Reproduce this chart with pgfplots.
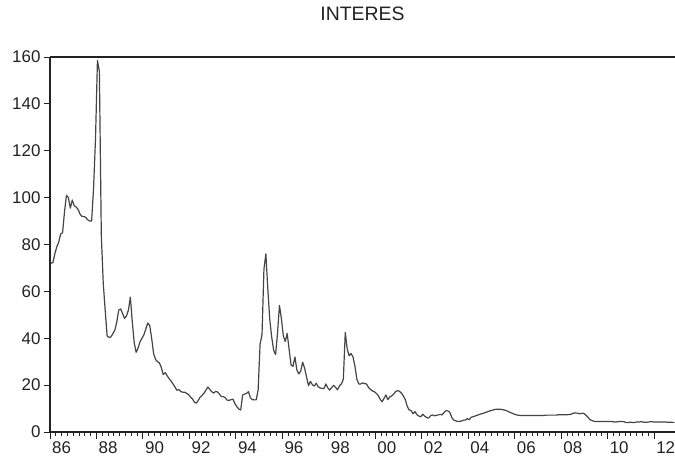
\documentclass[border=0pt]{standalone}
\usepackage{fontspec}
\setmainfont{Liberation Sans}
\usepackage{pgfplots}
\pgfplotsset{compat=1.18}
\definecolor{linegray}{HTML}{444444}
\definecolor{axisgray}{HTML}{222222}
\begin{document}
\begin{tikzpicture}
\path[use as bounding box] (0,0) rectangle (675bp,460bp);
\begin{axis}[
  at={(50bp,28bp)}, anchor=south west,
  scale only axis, width=625bp, height=375bp,
  xmin=1986, xmax=2012.9, ymin=0, ymax=160,
  axis x line*=bottom, axis y line*=left,
  axis line style={axisgray, line width=1.1bp},
  tick align=outside,
  xtick={1986,1988,...,2012},
  xticklabels={86,88,90,92,94,96,98,00,02,04,06,08,10,12},
  minor x tick num=7,
  ytick={0,20,...,160},
  major tick length=6.5bp, minor tick length=3.5bp,
  every tick/.style={axisgray, line width=0.9bp},
  x tick label style={xshift=11.6bp},
  y tick label style={xshift=0.5bp},
  tick label style={font=\fontsize{17}{19}\selectfont, text=axisgray},
  /pgf/number format/assume math mode=true,
  title={INTERES},
  title style={font=\fontsize{19.5}{21}\selectfont, at={(0.5,1)}, anchor=base, yshift=31bp, text=axisgray},
  clip=false,
]
\addplot[linegray, line width=1.2bp, line join=round] table[row sep=\\, x expr=1986+(\coordindex+0.5)/12, y=v] {
v\\
72\\ 72.3\\ 76\\ 79\\ 81\\ 84.5\\ 85\\ 94\\ 101\\ 100\\ 95.5\\ 99\\
96.5\\ 96\\ 95\\ 93\\ 92\\ 92\\ 91.5\\ 90.5\\ 90\\ 90\\ 104\\ 125\\
158.5\\ 154\\ 84\\ 63.5\\ 52\\ 41\\ 40.3\\ 40.6\\ 42\\ 43.5\\ 47\\ 52\\
52.5\\ 50.5\\ 48.5\\ 49.5\\ 52\\ 57.5\\ 47\\ 38\\ 34\\ 35.8\\ 38.5\\ 40\\
41.5\\ 44\\ 46.5\\ 45.5\\ 40\\ 33.5\\ 31\\ 30\\ 29.5\\ 27.5\\ 24.5\\ 25.3\\
24\\ 22.8\\ 21.8\\ 20.5\\ 19.3\\ 17.8\\ 18.1\\ 17.3\\ 17\\ 17\\ 16.5\\ 16\\
15\\ 14.2\\ 12.8\\ 12.3\\ 13.4\\ 14.8\\ 15.6\\ 16.5\\ 17.8\\ 19.2\\ 18.2\\ 17.2\\
16.6\\ 17.3\\ 17.1\\ 16.2\\ 15.1\\ 15.1\\ 14.6\\ 13.6\\ 13.5\\ 13.8\\ 14\\ 12.1\\
10.8\\ 9.8\\ 9.4\\ 15.8\\ 16.2\\ 16.5\\ 17.2\\ 14.6\\ 13.8\\ 13.7\\ 13.7\\ 18\\
37.5\\ 41.5\\ 69.5\\ 76\\ 61\\ 48\\ 40.5\\ 35\\ 33\\ 42\\ 54\\ 48.5\\
41\\ 38.6\\ 42\\ 35.3\\ 28.6\\ 28\\ 32\\ 26.5\\ 24.8\\ 26\\ 29.8\\ 27.2\\
23.5\\ 19.8\\ 21.6\\ 20.2\\ 19.6\\ 20.8\\ 19.3\\ 18.8\\ 18.6\\ 18.6\\ 20.5\\ 18.8\\
17.9\\ 19\\ 19.9\\ 19\\ 18\\ 19.7\\ 20.5\\ 22.5\\ 42.5\\ 35.5\\ 32.5\\ 33.5\\
32\\ 28\\ 22.5\\ 20.5\\ 20.5\\ 21\\ 20.6\\ 20.5\\ 19\\ 18.2\\ 17.5\\ 17.2\\
16.5\\ 15.6\\ 14\\ 12.9\\ 14.3\\ 15.8\\ 13.8\\ 15\\ 15.4\\ 16.2\\ 17.3\\ 17.6\\
17.4\\ 16.6\\ 15.4\\ 13.8\\ 11\\ 9.4\\ 9.2\\ 7.8\\ 8.7\\ 7.4\\ 6.8\\ 6.5\\
7.6\\ 6.8\\ 6.2\\ 5.9\\ 6.9\\ 7.3\\ 6.9\\ 7.1\\ 7.3\\ 7.5\\ 7.3\\ 8.3\\
9.1\\ 9.0\\ 8.4\\ 6.2\\ 5.1\\ 4.8\\ 4.5\\ 4.5\\ 4.7\\ 5\\ 5.1\\ 5.7\\
5.2\\ 6.3\\ 6.5\\ 6.8\\ 7.1\\ 7.4\\ 7.7\\ 7.9\\ 8.2\\ 8.5\\ 8.8\\ 9.1\\
9.3\\ 9.6\\ 9.7\\ 9.7\\ 9.7\\ 9.6\\ 9.4\\ 9.2\\ 8.8\\ 8.4\\ 8.1\\ 7.7\\
7.4\\ 7.2\\ 7.1\\ 7.0\\ 7.0\\ 7.0\\ 7.0\\ 7.0\\ 7.0\\ 7.0\\ 7.0\\ 7.0\\
7.0\\ 7.0\\ 7.0\\ 7.1\\ 7.2\\ 7.2\\ 7.2\\ 7.2\\ 7.2\\ 7.2\\ 7.4\\ 7.4\\
7.4\\ 7.4\\ 7.4\\ 7.4\\ 7.5\\ 7.7\\ 8.1\\ 8.1\\ 8.0\\ 7.8\\ 7.9\\ 8.0\\
7.4\\ 6.6\\ 5.6\\ 5.0\\ 4.7\\ 4.5\\ 4.5\\ 4.5\\ 4.5\\ 4.5\\ 4.5\\ 4.5\\
4.5\\ 4.5\\ 4.4\\ 4.3\\ 4.3\\ 4.4\\ 4.5\\ 4.5\\ 4.4\\ 4.0\\ 4.0\\ 4.2\\
4.1\\ 4.0\\ 4.2\\ 4.3\\ 4.3\\ 4.4\\ 4.2\\ 4.1\\ 4.2\\ 4.3\\ 4.4\\ 4.3\\
4.3\\ 4.3\\ 4.3\\ 4.3\\ 4.3\\ 4.3\\ 4.2\\ 4.1\\ 4.2\\ 4.1\\ 4.1\\
};
\draw[axisgray, line width=1.1bp] (rel axis cs:0,1) -- (rel axis cs:1,1);
\end{axis}
\end{tikzpicture}
\end{document}
